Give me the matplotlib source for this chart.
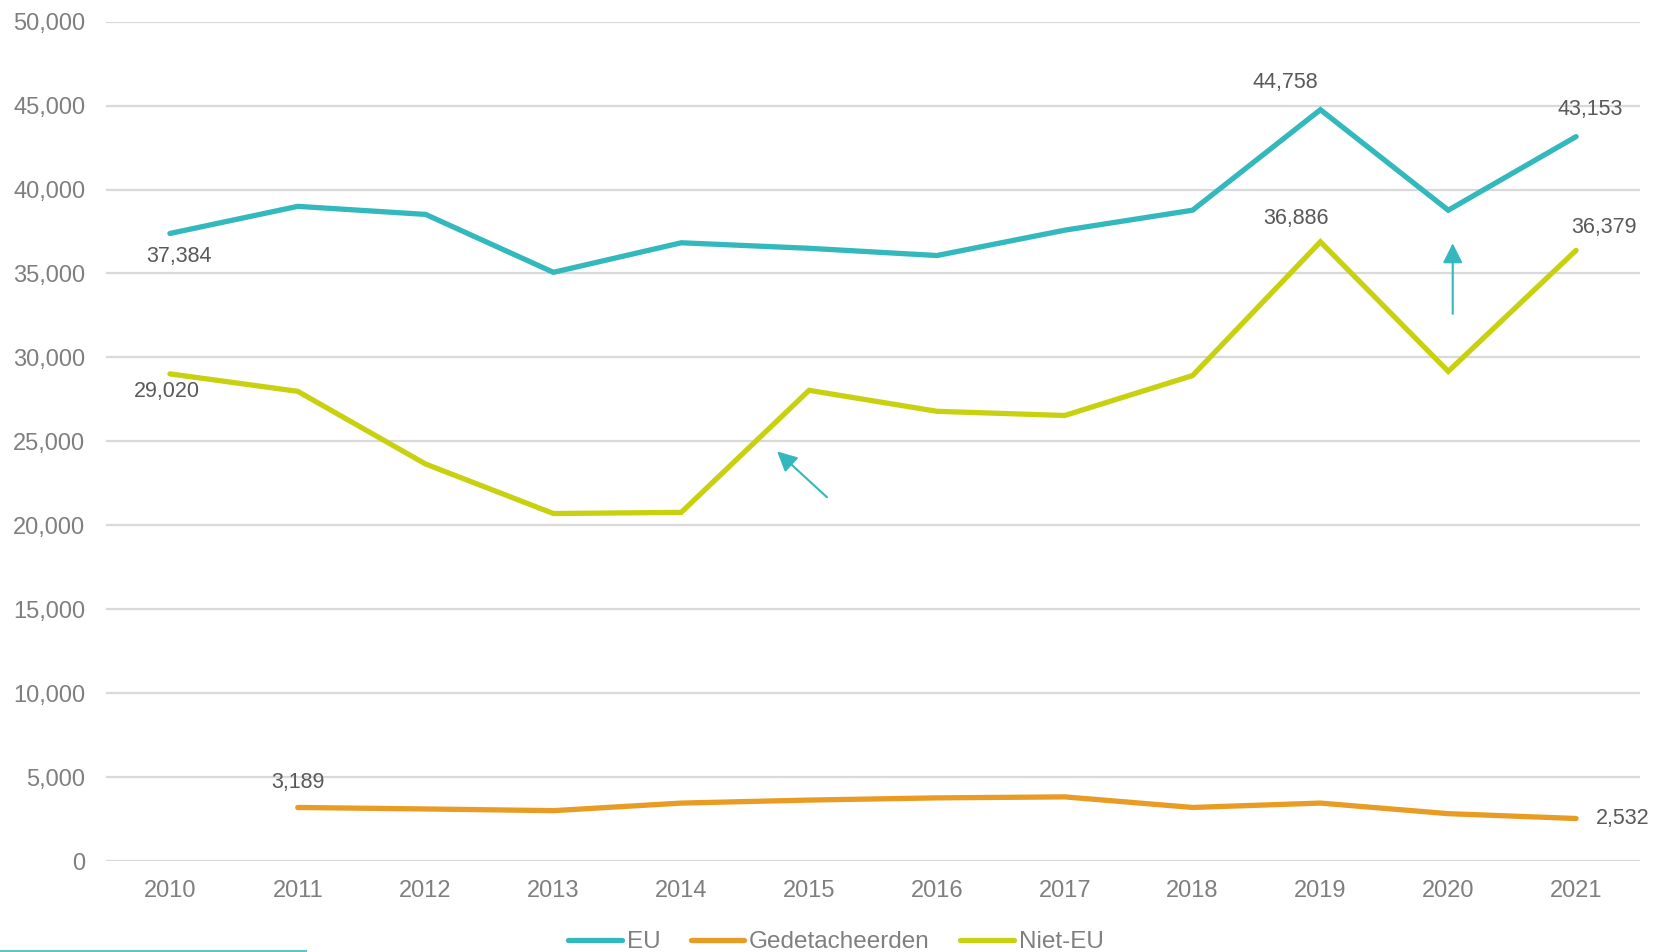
import matplotlib
matplotlib.use("Agg")
import matplotlib.pyplot as plt
from matplotlib.lines import Line2D

years = [2010, 2011, 2012, 2013, 2014, 2015, 2016, 2017, 2018, 2019, 2020, 2021]
eu = [37384, 39000, 38520, 35070, 36830, 36500, 36070, 37580, 38770, 44758, 38770, 43153]
niet_eu = [29020, 27980, 23650, 20700, 20770, 28040, 26790, 26540, 28920, 36886, 29170, 36379]
ged_years = [2011, 2012, 2013, 2014, 2015, 2016, 2017, 2018, 2019, 2020, 2021]
gedetacheerden = [3189, 3100, 3000, 3450, 3630, 3760, 3820, 3190, 3450, 2820, 2532]
yticks = [0, 5000, 10000, 15000, 20000, 25000, 30000, 35000, 40000, 45000, 50000]

C_EU = "#33b8bd"
C_GED = "#e89c23"
C_NEU = "#c8d10f"
TICK_C = "#7f7f7f"
LAB_C = "#595959"
REG = ["Liberation Sans", "DejaVu Sans"]

fig = plt.figure(figsize=(16.54, 9.52), dpi=100)
ax = fig.add_axes([106/1654, 1-861/952, (1640-106)/1654, (861-21.7)/952])

lw = 3.8
ax.plot(years, eu, color=C_EU, lw=lw, solid_capstyle="round", solid_joinstyle="miter", label="EU", zorder=3)
ax.plot(ged_years, gedetacheerden, color=C_GED, lw=lw, solid_capstyle="round", solid_joinstyle="miter", label="Gedetacheerden", zorder=3)
ax.plot(years, niet_eu, color=C_NEU, lw=lw, solid_capstyle="round", solid_joinstyle="miter", label="Niet-EU", zorder=3)

ax.set_xlim(2009.5, 2021.5)
ax.set_ylim(0, 50000)
ax.set_yticks(yticks)
ax.set_yticklabels([f"{v:,}" for v in yticks], fontsize=17, color=TICK_C, family=REG)
ax.set_xticks(years)
ax.set_xticklabels([str(y) for y in years], fontsize=17, color=TICK_C, family=REG)
ax.tick_params(axis="both", length=0)
ax.tick_params(axis="y", pad=15)
ax.tick_params(axis="x", pad=14)
for s in ax.spines.values():
    s.set_visible(False)
ax.grid(axis="y", color="#d9d9d9", lw=1.6, zorder=0)
ax.set_axisbelow(True)

def lab(x, y, text, dx, dy):
    ax.annotate(text, (x, y), xytext=(dx, dy), textcoords="offset pixels",
                ha="center", va="center", fontsize=15.5, color=LAB_C, family=REG, zorder=5)

lab(years[0], eu[0], f"{eu[0]:,}", 9, -23)
lab(years[0], niet_eu[0], f"{niet_eu[0]:,}", -3, -18)
lab(ged_years[0], gedetacheerden[0], f"{gedetacheerden[0]:,}", 0, 25)
lab(ged_years[-1], gedetacheerden[-1], f"{gedetacheerden[-1]:,}", 47, 0)
lab(years[9], eu[9], f"{eu[9]:,}", -35, 27)
lab(years[11], eu[11], f"{eu[11]:,}", 14, 27)
lab(years[9], niet_eu[9], f"{niet_eu[9]:,}", -24, 23)
lab(years[11], niet_eu[11], f"{niet_eu[11]:,}", 28, 23)

arrow_kw = dict(arrowstyle="-|>", color=C_EU, lw=1.5, mutation_scale=30, shrinkA=0, shrinkB=0)
ax.annotate("", xy=(2014.75, 24400), xytext=(2015.14, 21670), arrowprops=arrow_kw, zorder=4)
ax.annotate("", xy=(2020.035, 36800), xytext=(2020.035, 32600), arrowprops=arrow_kw, zorder=4)

handles = [Line2D([], [], color=C_EU, lw=lw, solid_capstyle="round"),
           Line2D([], [], color=C_GED, lw=lw, solid_capstyle="round"),
           Line2D([], [], color=C_NEU, lw=lw, solid_capstyle="round")]
leg = fig.legend(handles, ["EU", "Gedetacheerden", "Niet-EU"], loc="center",
                 bbox_to_anchor=(836/1654, 1-942/952), ncol=3, frameon=False,
                 prop={"family": REG, "size": 17.5}, handlelength=2.2, handletextpad=0.2,
                 columnspacing=1.25, borderpad=0)
for t in leg.get_texts():
    t.set_color(TICK_C)

fig.add_artist(Line2D([0, 306/1654], [1-951/952, 1-951/952], color="#5fc4c8", lw=1.5, transform=fig.transFigure))

fig.savefig("out.png", dpi=100)
